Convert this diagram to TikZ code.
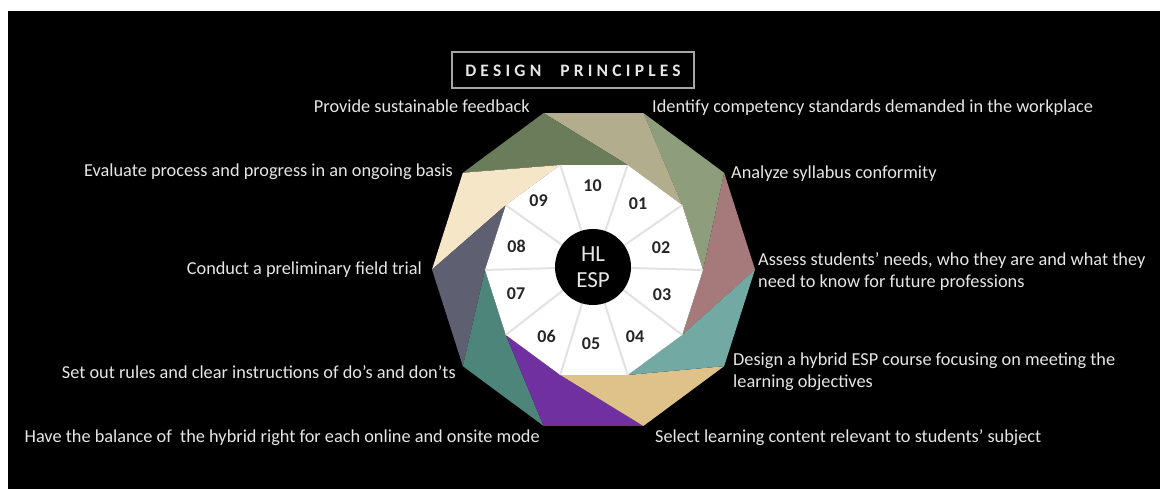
\documentclass[tikz,border=0pt]{standalone}
\usepackage{fontspec}
\setmainfont{Carlito}
\newfontfamily\titlefont[LetterSpace=24]{Carlito}
\definecolor{segRose}{HTML}{A67A7A}
\definecolor{segSage}{HTML}{8E9D7B}
\definecolor{segTan}{HTML}{B2AD8D}
\definecolor{segMoss}{HTML}{6B7C5A}
\definecolor{segCream}{HTML}{F4E6C6}
\definecolor{segSlate}{HTML}{5E6072}
\definecolor{segTeal}{HTML}{4E857A}
\definecolor{segPurple}{HTML}{7030A0}
\definecolor{segGold}{HTML}{DFC28A}
\definecolor{segAqua}{HTML}{72AAA3}
\definecolor{labelgray}{HTML}{E6E6E6}
\definecolor{spokegray}{HTML}{E2E2E2}
\definecolor{framegray}{HTML}{A6A6A6}
\tikzset{
  lab/.style={inner sep=0pt, text=labelgray, font=\fontsize{18.3}{22}\selectfont, align=left},
  labr/.style={lab, align=right},
  num/.style={inner sep=0pt, text=black!85, font=\bfseries\fontsize{18}{18}\selectfont},
  spoke/.style={draw=spokegray, line width=2pt},
}
\begin{document}
\begin{tikzpicture}[x=1pt,y=-1pt]
\useasboundingbox (0,0) rectangle (1160,489);
\fill[white] (0,0) rectangle (1160,489);
\fill[black] (8,11) rectangle (1160,489);

% title
\draw[framegray, line width=2pt] (452,52) rectangle (694,88);
\node[inner sep=0pt, text=labelgray, font=\titlefont\bfseries\fontsize{17.5}{17.5}\selectfont, anchor=base] (title) at (573,76.5) {DESIGN\hspace{19pt}PRINCIPLES};

% outer and inner decagon corners
\foreach \i in {0,...,9} {
  \coordinate (o\i) at ({593.5+161.5*cos(36*\i)},{269.5-164.5*sin(36*\i)});
  \coordinate (n\i) at ({594+109*cos(36*\i)},{270-110.4*sin(36*\i)});
}

% coloured ring segments
\foreach \k/\c in {0/segRose,1/segSage,2/segTan,3/segMoss,4/segCream,5/segSlate,6/segTeal,7/segPurple,8/segGold,9/segAqua} {
  \pgfmathtruncatemacro\nx{mod(\k+1,10)}
  \pgfmathtruncatemacro\pv{mod(\k+9,10)}
  \fill[\c] (o\k) -- (o\nx) -- (n\k) -- (n\pv) -- cycle;
}

% inner white decagon
\fill[white] (n0) -- (n1) -- (n2) -- (n3) -- (n4) -- (n5) -- (n6) -- (n7) -- (n8) -- (n9) -- cycle;

% spokes and hub
\coordinate (c) at (593,267);
\foreach \i in {0,...,9} \draw[spoke] (c) -- (n\i);
\node[circle, fill=black, minimum size=76pt, inner sep=0pt, text=labelgray, align=center,
      font=\fontsize{23}{26}\selectfont] (hub) at (c) {HL\\ESP};

% sector numbers
\node[num] (s01) at (638,204) {01};
\node[num] (s02) at (661,247.5) {02};
\node[num] (s03) at (662,295) {03};
\node[num] (s04) at (635,336.5) {04};
\node[num] (s05) at (591,344) {05};
\node[num] (s06) at (546.5,336) {06};
\node[num] (s07) at (516,294) {07};
\node[num] (s08) at (516.5,246) {08};
\node[num] (s09) at (538.5,200.5) {09};
\node[num] (s10) at (592.5,186) {10};

% principle labels
\node[lab, anchor=base west] (l1) at (652,113) {Identify competency standards demanded in the workplace};
\node[lab, anchor=base west] (l2) at (731,179) {Analyze syllabus conformity};
\node[lab, anchor=west] (l3) at (758,271.5) {Assess students’ needs, who they are and what they\\need to know for future professions};
\node[lab, anchor=west] (l4) at (733,371.5) {Design a hybrid ESP course focusing on meeting the\\learning objectives};
\node[lab, anchor=base west] (l5) at (655,442) {Select learning content relevant to students’ subject};
\node[labr, anchor=base east] (l6) at (540,442) {Have the balance of \ the hybrid right for each online and onsite mode};
\node[labr, anchor=base east] (l7) at (456,378) {Set out rules and clear instructions of do’s and don’ts};
\node[labr, anchor=base east] (l8) at (422,275) {Conduct a preliminary field trial};
\node[labr, anchor=base east] (l9) at (453,176.5) {Evaluate process and progress in an ongoing basis};
\node[labr, anchor=base east] (l10) at (530,113) {Provide sustainable feedback};
\end{tikzpicture}
\end{document}
